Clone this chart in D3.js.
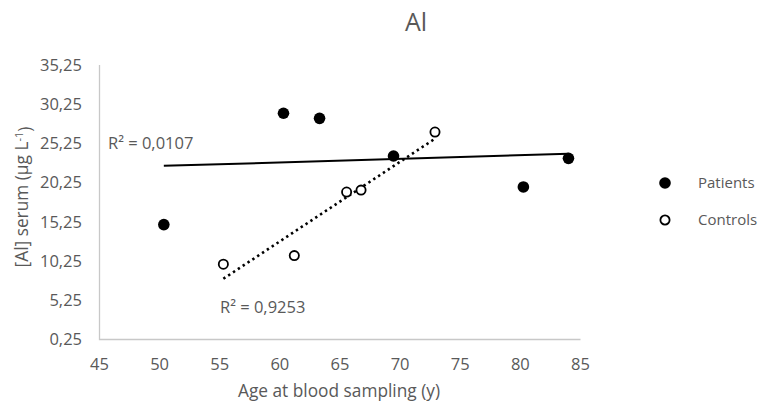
<!DOCTYPE html>
<html>
<head>
<meta charset="utf-8">
<script src="https://cdn.jsdelivr.net/npm/d3@7"></script>
<style>
  body { margin: 0; background: #fff; }
  text { font-family: "Open Sans", sans-serif; fill: #595959; }
</style>
</head>
<body>
<div id="chart"></div>
<script>
// data
const patientsAge = [50.35, 60.3, 63.3, 69.45, 80.25, 84.0];
const patientsAl  = [14.9, 29.1, 28.45, 23.65, 19.7, 23.35];
const controlsAge = [55.3, 61.2, 65.55, 66.75, 72.9];
const controlsAl  = [9.85, 10.95, 19.05, 19.3, 26.7];
const xTicks = [45, 50, 55, 60, 65, 70, 75, 80, 85];
const yTicks = [0.25, 5.25, 10.25, 15.25, 20.25, 25.25, 30.25, 35.25];
const r2Labels = ["R² = 0,0107", "R² = 0,9253"];
const seriesNames = ["Patients", "Controls"];

const W = 766, H = 405;
const svg = d3.select("#chart").append("svg").attr("width", W).attr("height", H);

var x = d3.scaleLinear().domain([45, 85]).range([99.5, 580.5]);
var y = d3.scaleLinear().domain([0.25, 35.25]).range([339.5, 65]);
var fmt = d3.format(".2f");
var comma = v => fmt(v).replace(".", ",");

// axes (only lines + labels, no ticks)
svg.append("path")
    .attr("d", `M ${x(45)} ${y(35.25)} V ${y(0.25)} H ${x(85)}`)
    .attr("fill", "none").attr("stroke", "#c8c8c8").attr("stroke-width", 1.3);

svg.append("g").selectAll("text").data(yTicks).enter().append("text")
    .attr("x", 82).attr("y", d => y(d)).attr("dy", "0.35em")
    .attr("text-anchor", "end").style("font-size", "16.5px")
    .text(d => comma(d));

svg.append("g").selectAll("text").data(xTicks).enter().append("text")
    .attr("x", d => x(d)).attr("y", 364).attr("dy", "0.35em")
    .attr("text-anchor", "middle").style("font-size", "16.5px")
    .text(d => d);

// titles
svg.append("text").attr("x", 416).attr("y", 31).attr("text-anchor", "middle")
    .style("font-size", "25px").text("Al");

svg.append("text").attr("x", 339).attr("y", 397).attr("text-anchor", "middle")
    .style("font-size", "17.3px").text("Age at blood sampling (y)");

var yt = svg.append("text").attr("transform", "translate(28,197) rotate(-90)")
    .attr("text-anchor", "middle").style("font-size", "17.3px");
yt.append("tspan").text("[Al] serum (μg L");
yt.append("tspan").attr("dy", "-0.45em").style("font-size", "11px").text("-1");
yt.append("tspan").attr("dy", "0.45em").text(")");

// trend lines from least squares
function fit(xs, ys) {
    var mx = d3.mean(xs), my = d3.mean(ys);
    var sxy = d3.sum(xs, (v, i) => (v - mx) * (ys[i] - my));
    var sxx = d3.sum(xs, v => (v - mx) * (v - mx));
    var b = sxy / sxx;
    return v => my + b * (v - mx);
}
var line = d3.line().x(d => x(d[0])).y(d => y(d[1]));

var fp = fit(patientsAge, patientsAl);
var pe = d3.extent(patientsAge);
svg.append("path").attr("d", line(pe.map(v => [v, fp(v)])))
    .attr("stroke", "#000").attr("stroke-width", 2).attr("fill", "none");

var fc = fit(controlsAge, controlsAl);
var ce = d3.extent(controlsAge);
svg.append("path").attr("d", line(ce.map(v => [v, fc(v)])))
    .attr("stroke", "#000").attr("stroke-width", 2.6).attr("fill", "none")
    .attr("stroke-dasharray", "2.4,3.4");

// R² labels
svg.append("text").attr("x", 108).attr("y", 143).attr("dy", "0.35em")
    .style("font-size", "16.5px").text(r2Labels[0]);
svg.append("text").attr("x", 220).attr("y", 307).attr("dy", "0.35em")
    .style("font-size", "16.5px").text(r2Labels[1]);

// points
svg.append("g").selectAll("circle").data(d3.zip(patientsAge, patientsAl)).enter()
    .append("circle").attr("cx", d => x(d[0])).attr("cy", d => y(d[1]))
    .attr("r", 5.8).attr("fill", "#000");

svg.append("g").selectAll("circle").data(d3.zip(controlsAge, controlsAl)).enter()
    .append("circle").attr("cx", d => x(d[0])).attr("cy", d => y(d[1]))
    .attr("r", 4.6).attr("fill", "#fff").attr("stroke", "#000").attr("stroke-width", 1.8);

// legend
var leg = svg.append("g").selectAll("g").data(seriesNames).enter().append("g")
    .attr("transform", (d, i) => `translate(665,${183 + i * 37})`);
leg.append("circle").attr("r", (d, i) => i ? 4.6 : 5.8)
    .attr("fill", (d, i) => i ? "#fff" : "#000")
    .attr("stroke", (d, i) => i ? "#000" : "none").attr("stroke-width", 1.8);
leg.append("text").attr("x", 33).attr("dy", "0.35em").style("font-size", "15px").text(d => d);
</script>
</body>
</html>
